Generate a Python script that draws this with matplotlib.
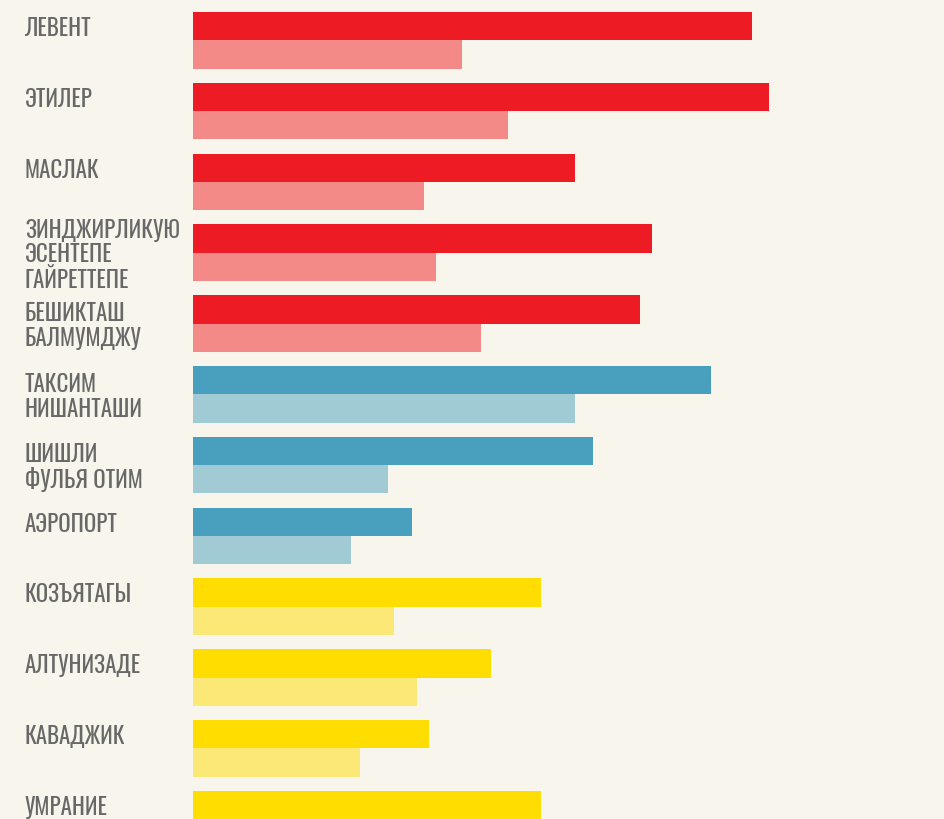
import matplotlib.pyplot as plt
import matplotlib.transforms as mtransforms
import numpy as np

# районы (сверху вниз)
districts = [
    "ЛЕВЕНТ", "ЭТИЛЕР", "МАСЛАК", "ЗИНДЖИРЛИКУЮ\nЭСЕНТЕПЕ\nГАЙРЕТТЕПЕ",
    "БЕШИКТАШ\nБАЛМУМДЖУ", "ТАКСИМ\nНИШАНТАШИ", "ШИШЛИ\nФУЛЬЯ ОТИМ", "АЭРОПОРТ",
    "КОЗЪЯТАГЫ", "АЛТУНИЗАДЕ", "КАВАДЖИК", "УМРАНИЕ",
]
# значения (две серии на район)
values_main = [559, 576, 382, 459, 447, 518, 400, 219, 348, 298, 236, 348]
values_second = [269, 315, 231, 243, 288, 382, 195, 158, 201, 224, 167, 200]
# группа цвета: 0 - красный, 1 - синий, 2 - жёлтый
color_group = [0, 0, 0, 0, 0, 1, 1, 1, 2, 2, 2, 2]

dark_colors = ["#ED1C24", "#499FBE", "#FFDD00"]
light_colors = ["#F48A87", "#A0CAD4", "#FBE877"]
BG = "#F8F6EC"
LABEL_FONT = ["Oswald", "Roboto Condensed", "DejaVu Sans"]

fig = plt.figure(figsize=(9.44, 8.2), dpi=100, facecolor=BG)
ax = fig.add_axes([0, 0, 1, 1])
ax.set_facecolor(BG)

y = np.arange(len(districts))
h = 0.4
ax.barh(y, values_main, height=h, left=0,
        color=[dark_colors[g] for g in color_group], linewidth=0)
ax.barh(y + h, values_second, height=h, left=0,
        color=[light_colors[g] for g in color_group], linewidth=0)

ax.set_xlim(-193, 751)
ax.set_ylim(11.198, -0.384)
ax.axis("off")

# подписи: одна строка - по центру тёмной полосы, несколько - по центру пары
trans = mtransforms.blended_transform_factory(fig.transFigure, ax.transData)
for i, name in enumerate(districts):
    n_lines = name.count("\n") + 1
    yc = i if n_lines == 1 else i + h / 2
    ax.text(25 / 944, yc + 0.02, name, transform=trans, ha="left", va="center",
            fontsize=16.5, color="#686868", linespacing=1.08,
            family=LABEL_FONT)

fig.savefig("out.png", dpi=100, facecolor=BG)
